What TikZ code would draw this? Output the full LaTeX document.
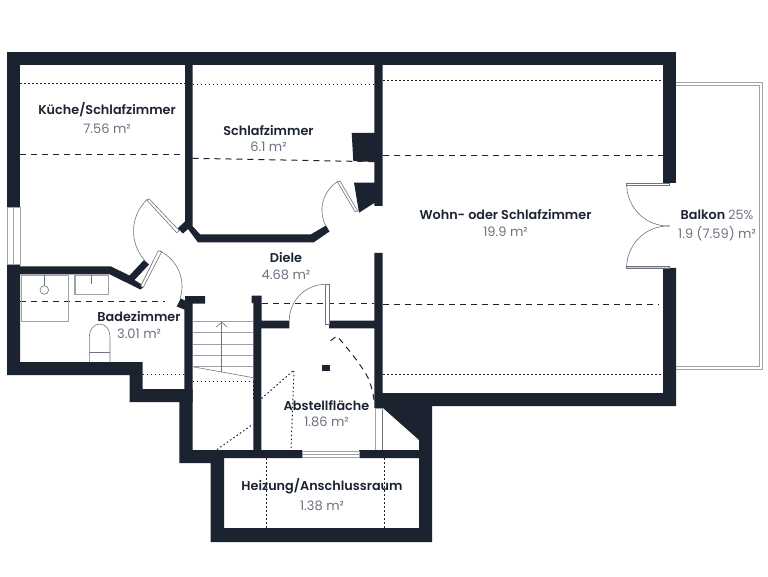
\documentclass[tikz,border=0pt]{standalone}
\usepackage{fontspec}
\setmainfont{Poppins}[BoldFont={Poppins SemiBold}]
\usepackage{tikz}
\usetikzlibrary{positioning}
\usetikzlibrary{arrows.meta}

\definecolor{wallcol}{HTML}{1C2330}
\definecolor{areacol}{HTML}{6B7280}
\definecolor{fixcol}{HTML}{9EA2A8}
\definecolor{thincol}{HTML}{70747C}

\tikzset{
	wall/.style={fill=wallcol, draw=none},
	fixture/.style={draw=fixcol, line width=1pt},
	thinline/.style={draw=thincol, line width=0.6pt},
	leaf/.style={draw=thincol, line width=0.6pt, fill=white},
	dotline/.style={draw=wallcol, line width=1pt, dash pattern=on 1.5pt off 2.5pt},
	dashline/.style={draw=wallcol, line width=1pt, dash pattern=on 6pt off 5pt},
	roomname/.style={font=\bfseries\fontsize{12.8}{15}\selectfont, text=wallcol, inner sep=0pt},
	roomarea/.style={font=\fontsize{13}{15}\selectfont, text=areacol, inner sep=0pt},
}

\begin{document}
\begin{tikzpicture}[x=1pt, y=-1pt]
	\useasboundingbox (0,0) rectangle (768,577);

	\fill[wall] (7,52) rectangle (676,65);
	\fill[wall] (7,52) rectangle (20,208);
	\fill[wall] (663,52) rectangle (676,183.3);
	\fill[wall] (7,265) -- (7,375) -- (129.5,375) -- (129.5,402) -- (192.5,402) -- (192.5,389) -- (142.5,389) -- (142.5,362) -- (20,362) -- (20,274.5) -- (110,274.5) -- (140.5,289.5) -- (144,286) -- (134.5,280) -- (149,264.5) -- (144,260) -- (129.5,275.5) -- (111,266.5) -- (20,266.5) -- (20,265) -- cycle;
	\fill[wall] (184.3,389) -- (184.3,309.5) -- (176.7,306.5) -- (180.7,298.5) -- (185,300.5) -- (185,296) -- (205,296) -- (205,303.5) -- (192.5,303.5) -- (192.5,389) -- cycle;
	\fill[wall] (179.3,389) -- (192.5,389) -- (192.5,450) -- (302,450) -- (302,458) -- (224,458) -- (224,528) -- (419,528) -- (419,458) -- (359,458) -- (359,450) -- (419,450) -- (419,406) -- (432,406) -- (432,542) -- (210.7,542) -- (210.7,463) -- (179.3,463) -- cycle;
	\fill[wall] (251.7,295.7) -- (261.7,295.7) -- (261.7,320.5) -- (289.3,320.5) -- (289.3,328.3) -- (261.3,328.3) -- (261.3,450) -- (253.3,450) -- (253.3,303) -- (251.7,303) -- cycle;
	\fill[wall] (329,320.5) -- (374.3,320.5) -- (374.3,253) -- (382.7,253) -- (382.7,393) -- (663,393) -- (663,268) -- (676,268) -- (676,406) -- (419,406) -- (419,440) -- (383,408) -- (374.3,408) -- (374.3,328.3) -- (329,328.3) -- cycle;
	\fill[wall] (185,65) -- (192.5,65) -- (192.5,226) -- (200,234.3) -- (311,234.3) -- (326,225.5) -- (329.5,231.5) -- (313.5,242.5) -- (198,242.5) -- (188,229) -- (183,233.5) -- (177.7,228.3) -- (185,221.5) -- cycle;
	\fill[wall] (374.3,65) -- (382.7,65) -- (382.7,206) -- (374.3,206) -- (374.3,203) -- (359,212.7) -- (354,182.7) -- (374.3,182.7) -- (374.3,162) -- (353.3,161) -- (351.7,133) -- (374.3,133) -- cycle;
	\fill[wall] (322.3,365.3) rectangle (330.3,371.3);

	\draw[dotline] (20,84) -- (185,84);
	\draw[dashline] (20,154.5) -- (185,154.5);
	\draw[dotline] (192.5,85) -- (374,85);
	\draw[dashline] (192.5,158.3) -- (374,161.7);
	\draw[dotline] (383,80.7) -- (663,80.7);
	\draw[dashline] (383,155.5) -- (663,155.5);
	\draw[dashline] (383,304.5) -- (659,304.5);
	\draw[dotline] (383,374.3) -- (663,374.3);
	\draw[dashline] (261.7,303) -- (374,303);
	\draw[dashline] (20,301) -- (165,301);
	\draw[dotline] (142.5,374.5) -- (184.3,374.5);
	\draw[dotline] (192.5,381) -- (253,381);
	\draw[dotline] (253,381) -- (253,400);
	\draw[dotline] (217,449.5) -- (253.3,424);
	\draw[dotline] (261.5,398.5) -- (294,370) -- (291,450);
	\draw[dotline] (266,458) -- (266,528);
	\draw[dotline] (384.7,458) -- (384.7,528);
	\draw[dashline] (330.7,340.7) -- (336.7,336) .. controls (352,353) and (363,368) .. (368.3,378.3) .. controls (371,385) and (373,392) .. (374,400);

	\draw[fixture] (7,208) rectangle (20,265);
	\draw[fixture] (13.5,208) -- (13.5,265);
	\draw[fixture] (302,451) rectangle (359,457.7);
	\draw[fixture] (302,454.3) -- (359,454.3);
	\draw[fixture] (375,408) -- (375,450);
	\draw[thinline] (382.5,408) -- (382.5,450);
	\draw[fixture] (375,408) -- (382.5,408);
	\draw[fixture] (676,82.7) -- (762,82.7) -- (762,369.3) -- (676,369.3);
	\draw[fixture] (676,86) -- (759,86) -- (759,366.3) -- (676,366.3);

	\draw[fixture, line width=1.4pt] (21.5,275.5) rectangle (68.5,321.5);
	\draw[fixture, line width=1.4pt] (75,275.5) rectangle (108.5,294.5);
	\draw[thinline] (44.3,275.5) -- (44.3,285.7);
	\draw[thinline] (44.3,290) circle (4.3);
	\draw[thinline] (91.3,275.5) -- (91.3,284.3);
	\draw[thinline] (89.3,362) -- (89.3,338) .. controls (89.3,329) and (94,324) .. (99.7,324) .. controls (105.4,324) and (110,329) .. (110,338) -- (110,362);
	\draw[thinline] (89.3,352.7) -- (110,352.7);

	\foreach \y in {321.7,332.7,344,355.3,366.7} {
		\draw[fixture] (192.5,\y) -- (253.3,\y);
	}
	\draw[thinline] (192.5,366.7) -- (253.3,377.7);
	\draw[thinline, -{Straight Barb[width=11pt,length=5pt]}] (221.7,371.7) -- (221.7,321.7);

	\draw[leaf] (146.7,200) -- (149.3,199) -- (179.3,230.7) -- (176.7,232.7) -- cycle;
	\draw[thinline] (147,199.5) to[bend right=43] (144.3,260);
	\draw[leaf] (158.3,250.7) -- (161.7,251.7) -- (143.3,287.3) -- (140.7,286) -- cycle;
	\draw[thinline] (160,251) to[bend left=40] (180,299);
	\draw[leaf] (337.3,181.7) -- (340,181) -- (357.7,211) -- (355,211.7) -- cycle;
	\draw[thinline] (337.3,181.7) to[bend right=41] (325.7,225.7);
	\draw[leaf] (325.7,284.3) rectangle (329,324);
	\draw[thinline] (325.7,284.3) to[bend right=45] (289.3,320.7);
	\draw[leaf] (626.7,183.3) rectangle (669.7,185.7);
	\draw[thinline] (626.7,185.7) to[bend right=45] (669.7,226);
	\draw[leaf, fill=fixcol!50] (626.7,266) rectangle (669.7,268.3);
	\draw[thinline] (626.7,266) to[bend left=45] (669.7,226);

	\node[roomname] (kueche) at (107,110) {Küche/Schlafzimmer};
	\node[roomarea, below=6pt of kueche] (kuechearea) {7.56 m²};
	\node[roomname] (schlaf) at (268.5,130.5) {Schlafzimmer};
	\node[roomarea, below=6pt of schlaf] (schlafarea) {6.1 m²};
	\node[roomname] (diele) at (286,258) {Diele};
	\node[roomarea, below=6pt of diele] (dielearea) {4.68 m²};
	\node[roomname] (wohn) at (505.5,215) {Wohn- oder Schlafzimmer};
	\node[roomarea, below=6pt of wohn] (wohnarea) {19.9 m²};
	\node[roomname] (balkon) at (717,215) {Balkon \textmd{\textcolor{areacol}{25\%}}};
	\node[roomarea, below=6pt of balkon] (balkonarea) {1.9 (7.59) m²};
	\node[roomname] (bad) at (139,317) {Badezimmer};
	\node[roomarea, below=6pt of bad] (badarea) {3.01 m²};
	\node[roomname] (abstell) at (326.5,405.5) {Abstellfläche};
	\node[roomarea, below=6pt of abstell] (abstellarea) {1.86 m²};
	\node[roomname] (heizung) at (322,486.5) {Heizung/Anschlussraum};
	\node[roomarea, below=6pt of heizung] (heizungarea) {1.38 m²};
\end{tikzpicture}
\end{document}
